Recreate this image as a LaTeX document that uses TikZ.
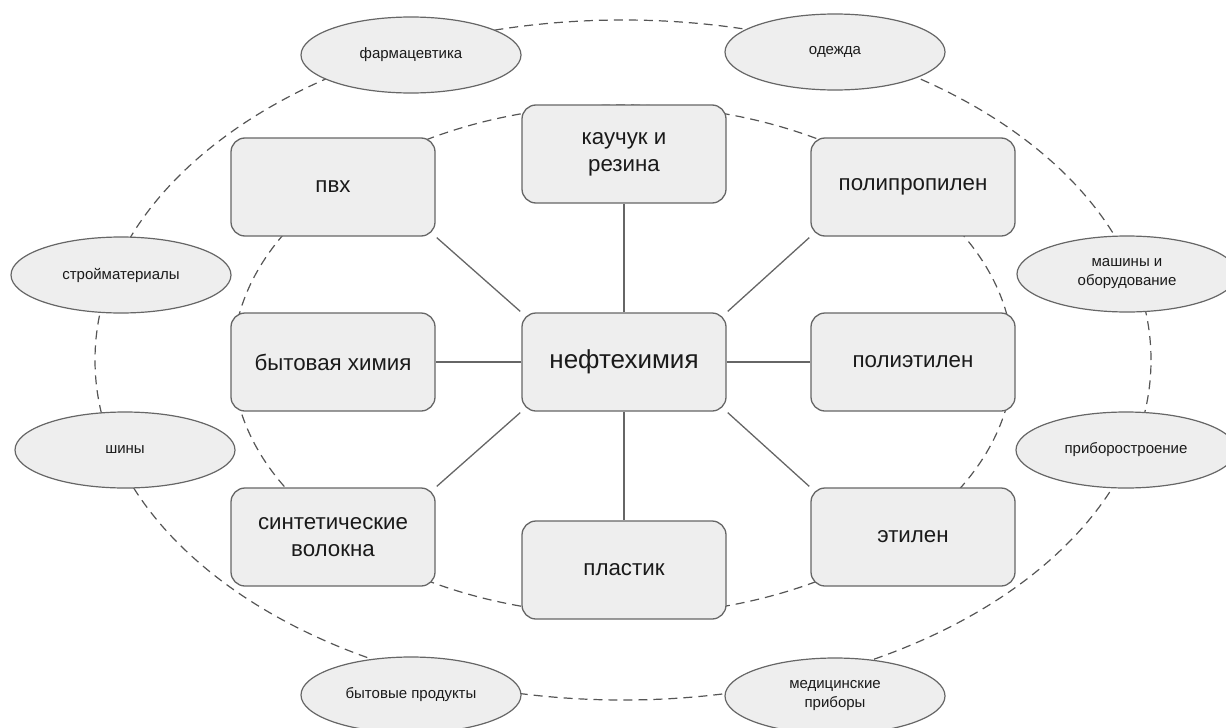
\documentclass[tikz,border=0pt]{standalone}
\usepackage{fontspec}
\setmainfont{Liberation Sans}
\usetikzlibrary{shapes.geometric}
\definecolor{boxfill}{HTML}{EEEEEE}
\definecolor{boxline}{HTML}{666666}
\definecolor{dashline}{HTML}{555555}
\definecolor{txt}{HTML}{1A1A1A}
\tikzset{
  box/.style={draw=boxline, fill=boxfill, rounded corners=14pt, line width=1.3pt,
    minimum width=204pt, minimum height=98pt, inner sep=2pt, align=center, text=txt,
    font=\fontsize{22.3}{27}\selectfont},
  hub/.style={box, font=\fontsize{26}{31}\selectfont},
  oval/.style={ellipse, draw=boxline, fill=boxfill, line width=1.2pt,
    minimum width=220pt, minimum height=76pt, inner sep=0pt, align=center, text=txt,
    font=\fontsize{15}{19}\selectfont},
  ring/.style={draw=dashline, line width=1.2pt, dash pattern=on 9pt off 6pt},
  link/.style={draw=boxline, line width=1.3pt},
  diag/.style={link, shorten >=1.5pt, shorten <=1.5pt}
}
\begin{document}
\begin{tikzpicture}[x=1pt,y=-1pt]
\useasboundingbox (0,0) rectangle (1226,728);
\draw[ring] (623,360) ellipse [x radius=528pt, y radius=340pt];
\draw[ring] (623,360) ellipse [x radius=390pt, y radius=255pt];

\node[box] (pvh) at (333,187) {пвх};
\node[box] (kau) at (624,154) {каучук и\\резина};
\node[box] (pp) at (913,187) {полипропилен};
\node[box] (byt) at (333,362) {бытовая химия};
\node[hub] (hub) at (624,362) {нефтехимия};
\node[box] (pe) at (913,362) {полиэтилен};
\node[box] (sint) at (333,537) {синтетические\\волокна};
\node[box] (plast) at (624,570) {пластик};
\node[box] (et) at (913,537) {этилен};

\draw[link] (hub.north) -- (kau.south);
\draw[link] (hub.south) -- (plast.north);
\draw[link] (hub.west) -- (byt.east);
\draw[link] (hub.east) -- (pe.west);
\draw[diag] (hub.north west) -- (pvh.south east);
\draw[diag] (hub.north east) -- (pp.south west);
\draw[diag] (hub.south west) -- (sint.north east);
\draw[diag] (hub.south east) -- (et.north west);

\node[oval] (farm) at (411,55) {фармацевтика};
\node[oval] (odezh) at (835,52) {одежда};
\node[oval] (stroy) at (121,275) {стройматериалы};
\node[oval] (mash) at (1127,274) {машины и\\оборудование};
\node[oval] (shiny) at (125,450) {шины};
\node[oval] (pribor) at (1126,450) {приборостроение};
\node[oval] (bprod) at (411,695) {бытовые продукты};
\node[oval] (med) at (835,696) {медицинские\\приборы};
\end{tikzpicture}
\end{document}
